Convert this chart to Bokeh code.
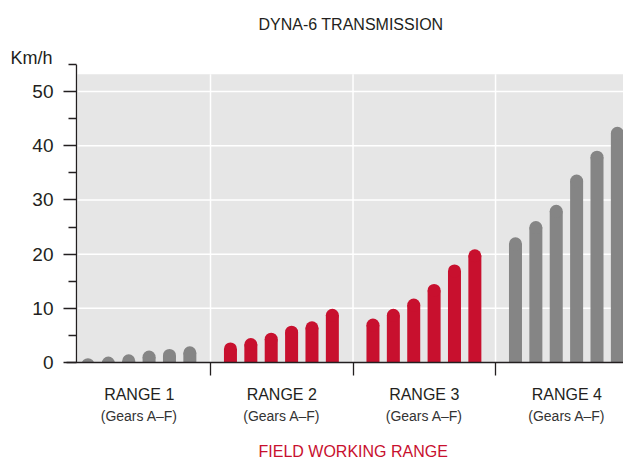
from bokeh.plotting import figure
from bokeh.models import (Range1d, FixedTicker, LinearAxis, Span, Title, ColumnDataSource)
from bokeh.embed import file_html
from bokeh.resources import INLINE

# ---- data ----
ranges = ["RANGE 1", "RANGE 2", "RANGE 3", "RANGE 4"]
gear_labels = ["(Gears A–F)", "(Gears A–F)", "(Gears A–F)", "(Gears A–F)"]
gears = ["A", "B", "C", "D", "E", "F"]
speeds_r1 = [0.8, 1.1, 1.5, 2.2, 2.5, 3.0]
speeds_r2 = [3.7, 4.5, 5.5, 6.8, 7.6, 9.9]
speeds_r3 = [8.1, 9.9, 11.8, 14.5, 18.1, 20.9]
speeds_r4 = [23.1, 26.1, 29.1, 34.7, 39.1, 43.5]
field_range = [False, True, True, False]
y_ticks = [0, 10, 20, 30, 40, 50]
y_minor = [5, 15, 25, 35, 45, 55]

RED = "#c8102e"
GREY = "#858585"
BG = "#e6e6e6"
INK = "#231f20"
FONT = "Liberation Sans"

# ---- layout constants ----
px_per_group = 142.5
px_per_unit_y = 5.418
x_start, x_end = -0.0105, 3.898
y_end = 55
bg_top = 53.2
bg_left = 0.0667
axis_x = 0.0596
bar_w = 13 / px_per_group
cap_r = 6.5 / px_per_unit_y
first_off, step = 0.14, 0.143

p = figure(width=623, height=461, output_backend="svg", toolbar_location=None,
           x_range=Range1d(x_start, x_end), y_range=Range1d(0, y_end),
           min_border_left=66, min_border_right=0, min_border_top=64, min_border_bottom=99,
           background_fill_color="white", border_fill_color="white")
p.outline_line_color = None
p.xgrid.visible = False
p.ygrid.visible = False

# background panel
p.quad(left=[bg_left], right=[x_end], bottom=[0], top=[bg_top], fill_color=BG, line_color=None)
# grid lines (white)
gy = [t for t in y_ticks if t > 0]
p.segment(x0=[bg_left] * len(gy), x1=[x_end] * len(gy), y0=gy, y1=gy, line_color="white", line_width=1.5)
sep = [1, 2, 3]
p.segment(x0=sep, x1=sep, y0=[0] * 3, y1=[bg_top] * 3, line_color="white", line_width=1.5)

# bars
all_speeds = [speeds_r1, speeds_r2, speeds_r3, speeds_r4]
xs, tops, cols, caps = [], [], [], []
for g, vals in enumerate(all_speeds):
    for j, v in enumerate(vals):
        xs.append(g + first_off + j * step)
        tops.append(max(v - cap_r, 0))
        caps.append(v - cap_r)
        cols.append(RED if field_range[g] else GREY)
src = ColumnDataSource(dict(x=xs, top=tops, cap=caps, color=cols))
p.vbar(x="x", top="top", bottom=0, width=bar_w, fill_color="color", line_color=None, source=src)
p.ellipse(x="x", y="cap", width=bar_w, height=2 * cap_r, fill_color="color", line_color=None, source=src)

# y axis line
p.add_layout(Span(location=axis_x, dimension="height", line_color=INK, line_width=1.3))

# y axis
ya = p.yaxis[0]
ya.ticker = FixedTicker(ticks=y_ticks, minor_ticks=y_minor)
ya.axis_line_color = None
ya.major_tick_out = 3
ya.major_tick_in = 10
ya.minor_tick_out = -2
ya.minor_tick_in = 10
ya.major_tick_line_color = INK
ya.minor_tick_line_color = INK
ya.major_tick_line_width = 1.3
ya.minor_tick_line_width = 1.3
ya.major_label_standoff = 10
ya.major_label_text_font = FONT
ya.major_label_text_font_size = "19px"
ya.major_label_text_color = INK

# x axis: range labels + separators
xa = p.xaxis[0]
xa.ticker = FixedTicker(ticks=[0.5, 1.5, 2.5, 3.5], minor_ticks=sep)
xa.major_label_overrides = {0.5: ranges[0], 1.5: ranges[1], 2.5: ranges[2], 3.5: ranges[3]}
xa.axis_line_color = INK
xa.axis_line_width = 1.3
xa.major_tick_line_color = None
xa.major_tick_out = 0
xa.major_tick_in = 0
xa.minor_tick_line_color = INK
xa.minor_tick_line_width = 1.3
xa.minor_tick_out = 13
xa.minor_tick_in = 0
xa.major_label_standoff = 10
xa.major_label_text_font = FONT
xa.major_label_text_font_size = "16px"
xa.major_label_text_color = INK

# second axis: gears
ga = LinearAxis(ticker=FixedTicker(ticks=[0.5, 1.5, 2.5, 3.5], minor_ticks=[]))
ga.major_label_overrides = {0.5: gear_labels[0], 1.5: gear_labels[1], 2.5: gear_labels[2], 3.5: gear_labels[3]}
ga.axis_line_color = None
ga.major_tick_line_color = None
ga.minor_tick_line_color = None
ga.major_tick_out = 0
ga.major_tick_in = 0
ga.major_label_standoff = 2
ga.major_label_text_font = FONT
ga.major_label_text_font_size = "14px"
ga.major_label_text_color = "#333333"
p.add_layout(ga, "below")


def spacer(h):
    """A blank axis (white tick on white, empty label) that only reserves space in a side panel."""
    ax = LinearAxis(ticker=FixedTicker(ticks=[0.5], minor_ticks=[]))
    ax.major_label_overrides = {0.5: ""}
    ax.axis_line_color = None
    ax.major_tick_line_color = "white"
    ax.minor_tick_line_color = None
    ax.major_tick_out = h
    ax.major_tick_in = 0
    ax.minor_tick_out = 0
    ax.minor_tick_in = 0
    ax.major_label_standoff = 0
    ax.major_label_text_font_size = "1px"
    ax.major_label_text_color = "white"
    return ax


p.add_layout(spacer(14), "below")
p.add_layout(Title(text="FIELD WORKING RANGE", align="left", offset=192, standoff=0,
                   text_font=FONT, text_font_size="16px", text_font_style="normal",
                   text_color=RED), "below")

# titles above
p.add_layout(Title(text="Km/h", align="left", offset=-56, standoff=-6,
                   text_font=FONT, text_font_size="18px", text_font_style="normal",
                   text_color=INK), "above")
p.add_layout(spacer(14), "above")
p.add_layout(Title(text="DYNA-6 TRANSMISSION", align="left", offset=192, standoff=0,
                   vertical_align="top",
                   text_font=FONT, text_font_size="16px", text_font_style="normal",
                   text_color=INK), "above")

open("out.html", "w").write(file_html(p, INLINE))
